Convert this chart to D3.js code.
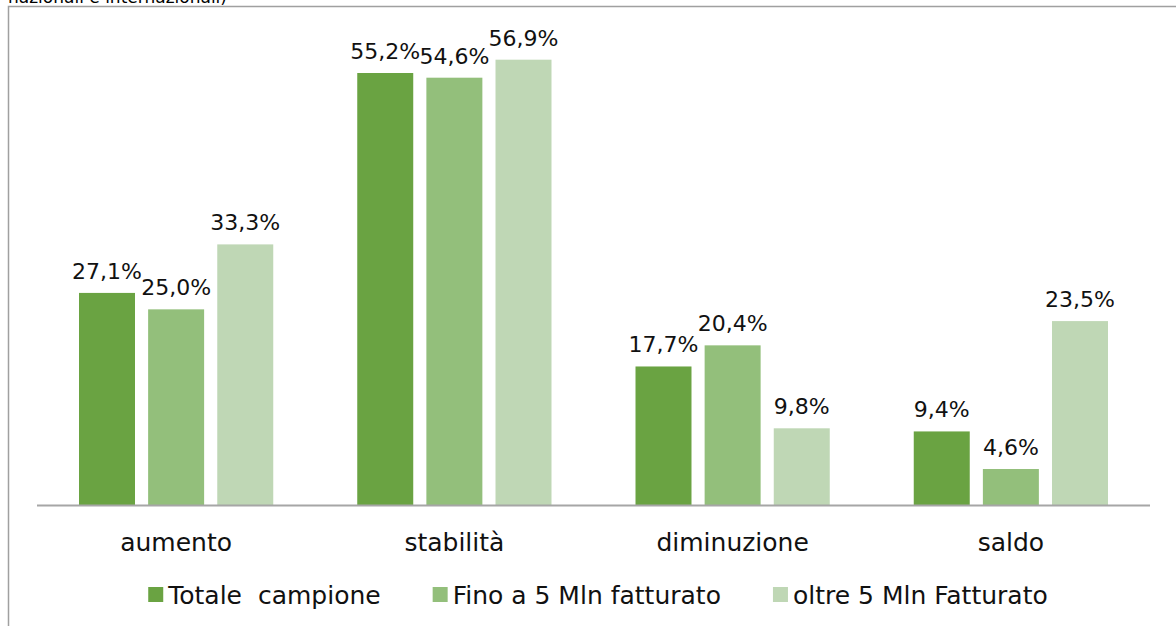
<!DOCTYPE html>
<html>
<head>
<meta charset="utf-8">
<script src="https://cdn.jsdelivr.net/npm/d3@7"></script>
<style>
  body { margin: 0; background: #fff; }
  svg { display: block; font-family: "DejaVu Sans", sans-serif; }
</style>
</head>
<body>
<svg width="1176" height="626"></svg>
<script>
// chart data
var categories = ["aumento", "stabilità", "diminuzione", "saldo"];
var seriesNames = ["Totale  campione", "Fino a 5 Mln fatturato", "oltre 5 Mln Fatturato"];
var totale = [27.1, 55.2, 17.7, 9.4];
var finoA5 = [25.0, 54.6, 20.4, 4.6];
var oltre5 = [33.3, 56.9, 9.8, 23.5];
var colors = ["#6aa342", "#93bf7b", "#bfd7b5"];

var series = [totale, finoA5, oltre5];

var svg = d3.select("svg"),
    baseline = 505,
    left = 37,
    right = 1150;

// cut-off title from the page above the chart
svg.append("text")
    .attr("x", 8)
    .attr("y", 3)
    .attr("font-size", 17)
    .attr("fill", "#000")
    .text("nazionali e internazionali)");

// chart frame (continues past the bottom edge)
svg.append("rect")
    .attr("x", 8.5)
    .attr("y", 6.5)
    .attr("width", 1180)
    .attr("height", 660)
    .attr("fill", "none")
    .attr("stroke", "#a0a0a0")
    .attr("stroke-width", 1.5);

var x0 = d3.scaleBand()
    .domain(categories)
    .range([left, right])
    .padding(0);

var x1 = d3.scaleBand()
    .domain(d3.range(series.length))
    .range([42, x0.bandwidth() - 42])
    .paddingInner(0.19)
    .paddingOuter(0);

var y = d3.scaleLinear()
    .domain([0, 55.2])
    .range([baseline, 73]);

var fmt = function(v) { return d3.format(".1f")(v).replace(".", ",") + "%"; };

var groups = svg.selectAll(".cat")
    .data(categories)
    .enter().append("g")
    .attr("class", "cat")
    .attr("transform", function(d) { return "translate(" + x0(d) + ",0)"; });

groups.selectAll("rect")
    .data(function(d, ci) { return series.map(function(s, si) { return {si: si, v: s[ci]}; }); })
    .enter().append("rect")
    .attr("x", function(d) { return x1(d.si); })
    .attr("y", function(d) { return y(d.v); })
    .attr("width", x1.bandwidth())
    .attr("height", function(d) { return baseline - y(d.v); })
    .attr("fill", function(d) { return colors[d.si]; });

groups.selectAll("text.val")
    .data(function(d, ci) { return series.map(function(s, si) { return {si: si, v: s[ci]}; }); })
    .enter().append("text")
    .attr("class", "val")
    .attr("x", function(d) { return x1(d.si) + x1.bandwidth() / 2; })
    .attr("y", function(d) { return y(d.v) - 14; })
    .attr("text-anchor", "middle")
    .attr("font-size", 22)
    .attr("fill", "#111")
    .text(function(d) { return fmt(d.v); });

// x axis line
svg.append("line")
    .attr("x1", left)
    .attr("x2", right)
    .attr("y1", baseline + 0.5)
    .attr("y2", baseline + 0.5)
    .attr("stroke", "#a6a6a6")
    .attr("stroke-width", 2);

// category labels
svg.selectAll(".catlabel")
    .data(categories)
    .enter().append("text")
    .attr("class", "catlabel")
    .attr("x", function(d) { return x0(d) + x0.bandwidth() / 2; })
    .attr("y", 551)
    .attr("text-anchor", "middle")
    .attr("font-size", 25)
    .attr("fill", "#111")
    .text(function(d) { return d; });

// legend, laid out in a row and centred
var legend = svg.append("g");
var items = legend.selectAll("g")
    .data(seriesNames)
    .enter().append("g");

items.append("rect")
    .attr("y", 587)
    .attr("width", 15)
    .attr("height", 15)
    .attr("fill", function(d, i) { return colors[i]; });

items.append("text")
    .attr("x", 20)
    .attr("y", 604)
    .attr("font-size", 25)
    .attr("fill", "#111")
    .style("white-space", "pre")
    .text(function(d) { return d; });

var pos = 0, gap = 52;
items.each(function() {
    var g = d3.select(this);
    g.attr("transform", "translate(" + pos + ",0)");
    pos += 20 + g.select("text").node().getComputedTextLength() + gap;
});
var total = pos - gap;
legend.attr("transform", "translate(" + (598 - total / 2) + ",0)");
</script>
</body>
</html>
